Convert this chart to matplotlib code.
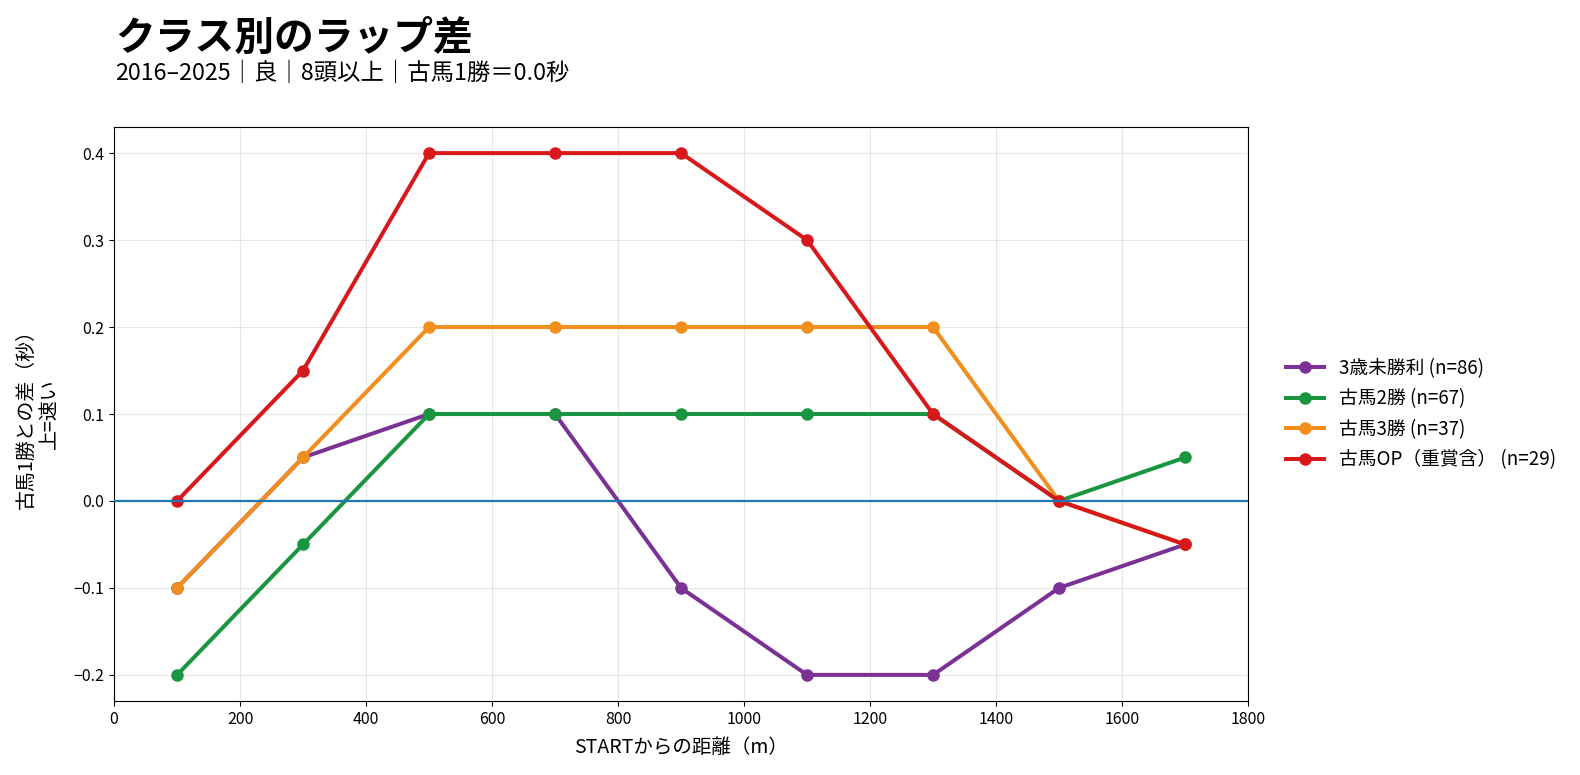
import matplotlib
matplotlib.use("Agg")
import matplotlib.pyplot as plt

plt.rcParams['font.family'] = ['Noto Sans CJK JP', 'DejaVu Sans']

distance = [100, 300, 500, 700, 900, 1100, 1300, 1500, 1700]
series_names = ["3歳未勝利 (n=86)", "古馬2勝 (n=67)", "古馬3勝 (n=37)", "古馬OP（重賞含） (n=29)"]
s_3yo_maiden = [-0.10, 0.05, 0.10, 0.10, -0.10, -0.20, -0.20, -0.10, -0.05]
s_2win = [-0.20, -0.05, 0.10, 0.10, 0.10, 0.10, 0.10, 0.0, 0.05]
s_3win = [-0.10, 0.05, 0.20, 0.20, 0.20, 0.20, 0.20, 0.0, -0.05]
s_op = [0.0, 0.15, 0.40, 0.40, 0.40, 0.30, 0.10, 0.0, -0.05]
colors = ["#7b3294", "#1a9641", "#f28e1e", "#d7191c"]

fig = plt.figure(figsize=(15.8, 7.75), dpi=100)
ax = fig.add_axes([0.0722, 0.0955, 0.7177, 0.7406])

all_series = [s_3yo_maiden, s_2win, s_3win, s_op]
for name, vals, c in zip(series_names, all_series, colors):
    ax.plot(distance, vals, marker='o', color=c, lw=2.9, ms=8, label=name)

ax.axhline(0, color='#1f77b4', lw=1.6, zorder=5)
ax.set_xlim(0, 1800)
ax.grid(True, alpha=0.3)
ax.set_axisbelow(True)
ax.set_xlabel("STARTからの距離（m）", fontsize=14, labelpad=7)
ax.set_ylabel("古馬1勝との差（秒）\n上=速い", fontsize=14.3, labelpad=9)
ax.tick_params(labelsize=11.5)

fig.text(0.073, 0.9355, "クラス別のラップ差", fontsize=28.6, fontweight='bold', ha='left', va='baseline')
fig.text(0.073, 0.8968, "2016–2025｜良｜8頭以上｜古馬1勝＝0.0秒", fontsize=16.8, ha='left', va='baseline')

ax.legend(loc='center left', bbox_to_anchor=(1.019, 0.5), frameon=False, fontsize=13.5)

fig.savefig("out.png", dpi=100)
